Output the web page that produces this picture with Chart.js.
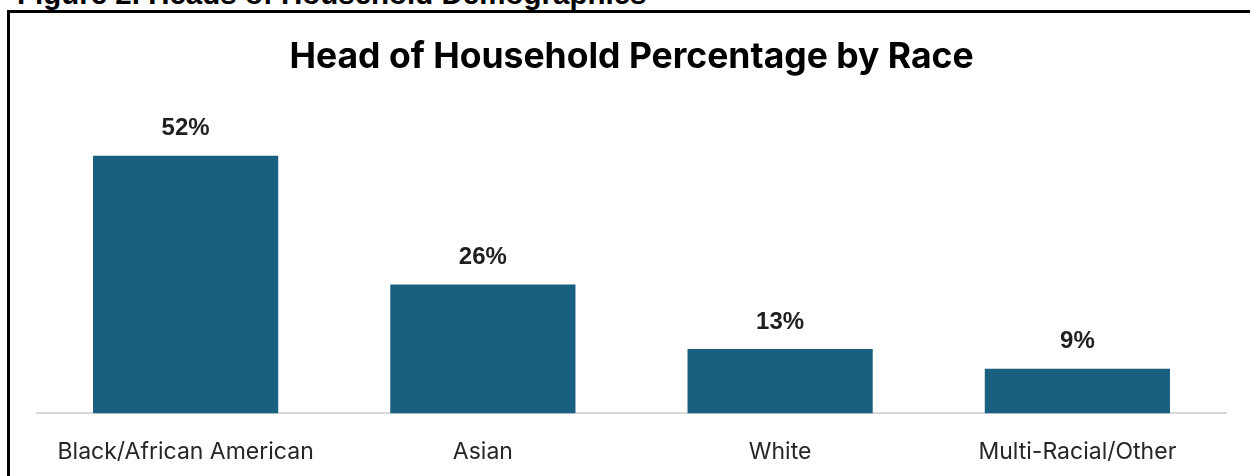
<!DOCTYPE html>
<html>
<head>
<meta charset="utf-8">
<script src="https://cdn.jsdelivr.net/npm/chart.js@4.4.1/dist/chart.umd.min.js"></script>
<style>
  html, body { margin: 0; padding: 0; background: #fff; overflow: hidden; }
  body { width: 1250px; height: 476px; position: relative; }
  #caption {
    position: absolute; left: 17px; top: -21px;
    font: bold 29.5px "Liberation Sans", Arial, sans-serif; line-height: 30px;
    color: #000; white-space: nowrap;
  }
  #frame {
    position: absolute; left: 7px; top: 10px; width: 1400px; height: 600px;
    border: 3px solid #000;
  }
  #wrap { position: absolute; left: 8px; top: 0; width: 1248px; height: 505px; }
</style>
</head>
<body>
<div id="caption">Figure 2. Heads of Household Demographics</div>
<div id="frame"></div>
<div id="wrap"><canvas id="myChart"></canvas></div>
<script>
// data
const races = ['Black/African American', 'Asian', 'White', 'Multi-Racial/Other'];
const shares = [52, 26, 13, 9];

// percent labels over every bar
const barLabels = {
  id: 'barLabels',
  afterDatasetsDraw(chart) {
    const ctx = chart.ctx;
    const meta = chart.getDatasetMeta(0);
    ctx.save();
    ctx.font = 'bold 24px "Liberation Sans", Arial, sans-serif';
    ctx.fillStyle = '#1f1f1f';
    ctx.textAlign = 'center';
    ctx.textBaseline = 'middle';
    meta.data.forEach((bar, i) => {
      ctx.fillText(shares[i] + '%', bar.x, bar.y - 27);
    });
    ctx.restore();
  }
};

const myChart = document.getElementById('myChart');

let barChart = new Chart(myChart, {
  type: 'bar',
  data: {
    labels: races,
    datasets: [{
      data: shares,
      backgroundColor: '#185f80',
      borderWidth: 0,
      categoryPercentage: 1,
      barPercentage: 0.623
    }]
  },
  options: {
    responsive: true,
    maintainAspectRatio: false,
    animation: false,
    layout: { padding: { left: 29, right: 30, top: 0, bottom: 14 } },
    plugins: {
      legend: { display: false },
      tooltip: { enabled: false },
      title: {
        display: true,
        text: 'Head of Household Percentage by Race',
        color: '#000',
        font: { family: 'Inter', size: 35.5, weight: 'bold' },
        padding: { top: 36, bottom: 37.5 }
      }
    },
    scales: {
      x: {
        grid: { display: false, drawTicks: false },
        border: { display: true, color: '#d9d9d9', width: 2 },
        ticks: {
          color: '#262626',
          padding: 25,
          font: { family: 'Inter', size: 23 }
        }
      },
      y: {
        display: false,
        min: 0,
        max: 60
      }
    }
  },
  plugins: [barLabels]
});
</script>
</body>
</html>
